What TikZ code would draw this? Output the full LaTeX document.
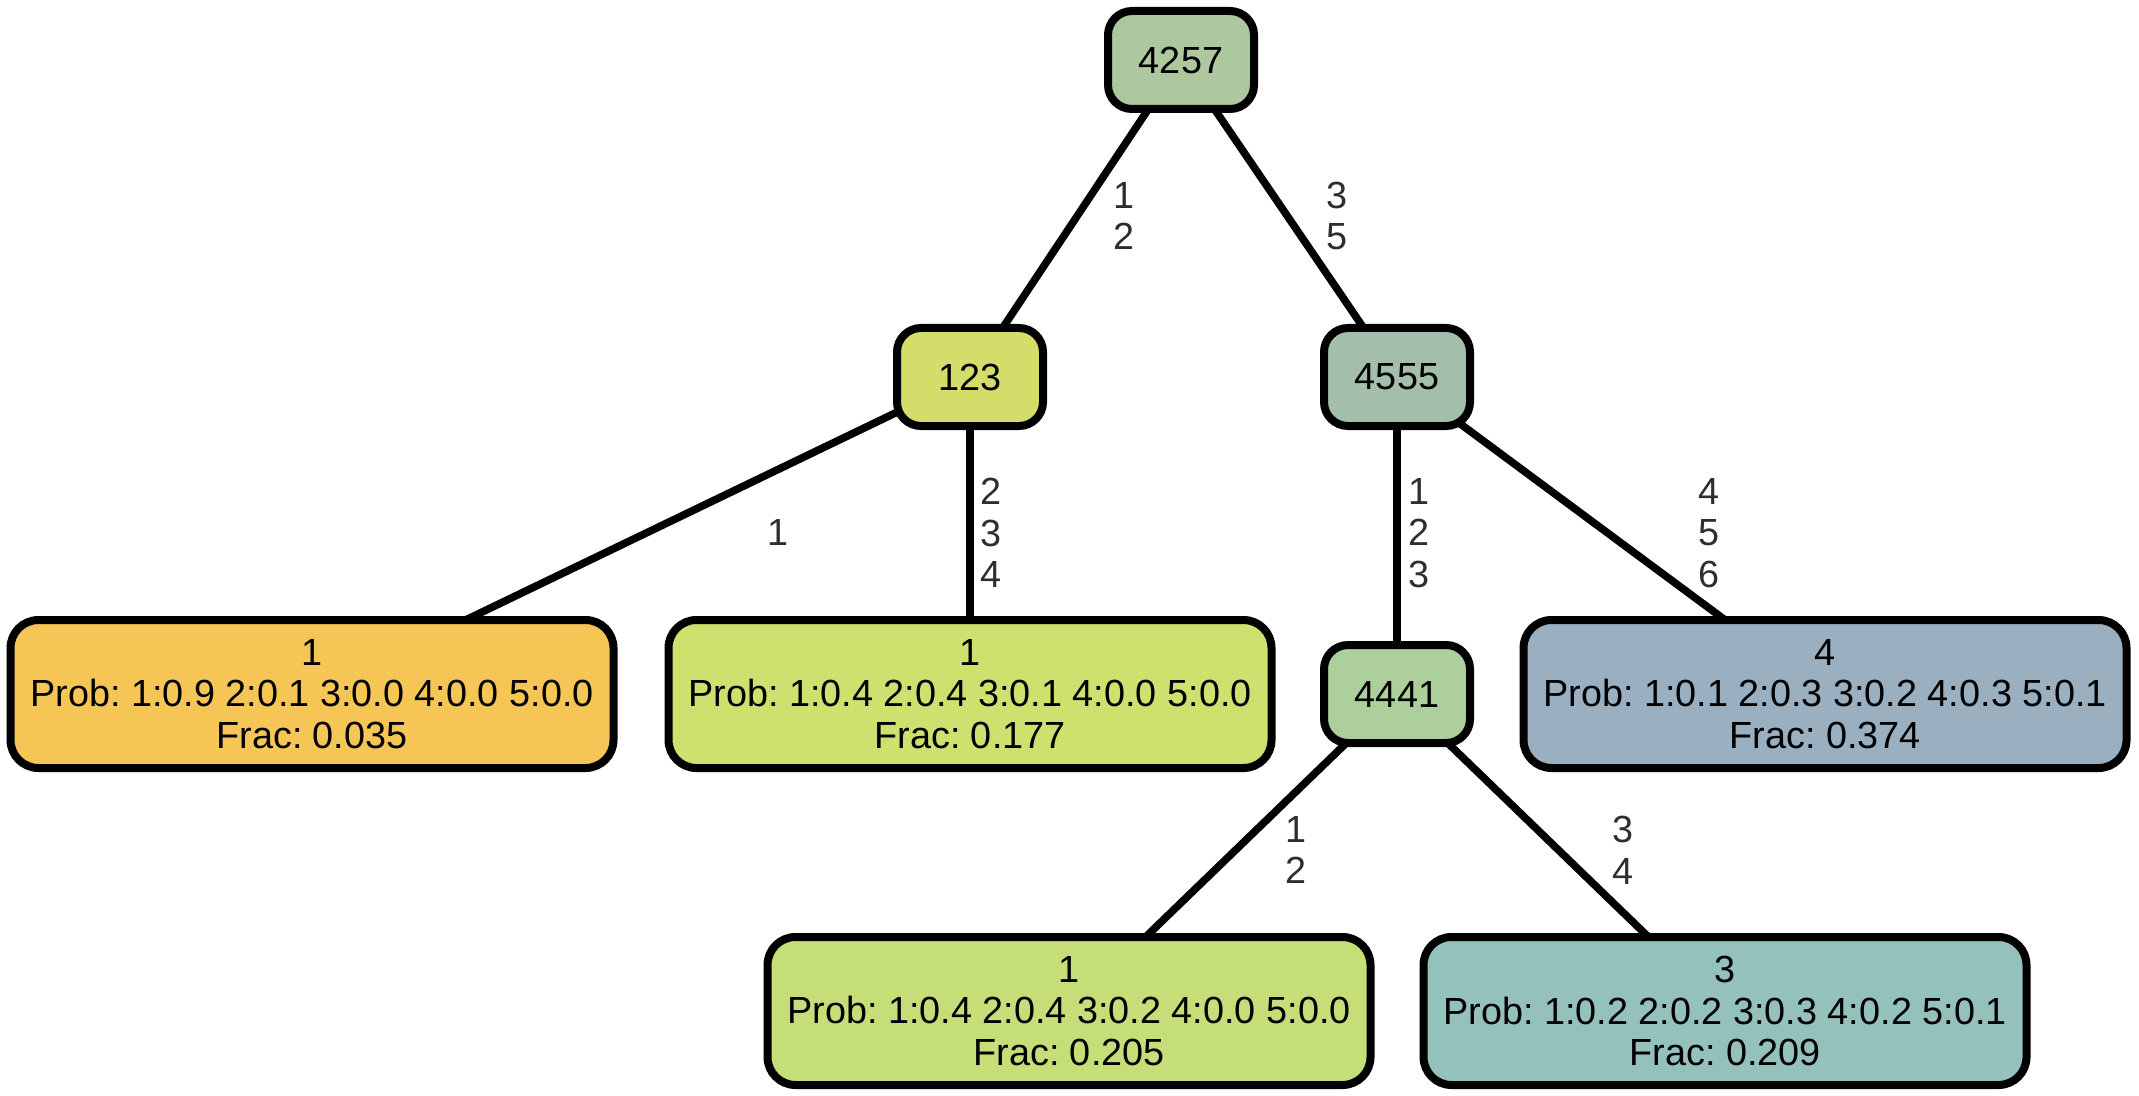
\documentclass[tikz,border=0pt]{standalone}
\usepackage{fontspec}
\setmainfont{Liberation Sans}
\usetikzlibrary{backgrounds}
\definecolor{cTop}{HTML}{ADC79E}
\definecolor{cOneTwoThree}{HTML}{D4DC6A}
\definecolor{cMid}{HTML}{A3BFAC}
\definecolor{cLow}{HTML}{ACCF9B}
\definecolor{cLeafA}{HTML}{F5C656}
\definecolor{cLeafB}{HTML}{CEE06E}
\definecolor{cLeafC}{HTML}{C6DE78}
\definecolor{cLeafD}{HTML}{9AAFC0}
\definecolor{cLeafE}{HTML}{94C1BC}
\definecolor{labgrey}{HTML}{2E2E2E}
\frenchspacing
\begin{document}
\begin{tikzpicture}[x=0.5pt,y=-0.5pt,
  box/.style={draw=black, line width=4pt, rounded corners=12pt, inner sep=0pt,
    align=center, font=\fontsize{18.9}{20.85}\selectfont},
  smallbox/.style={box, minimum width=73pt, minimum height=49pt},
  leafbox/.style={box, rounded corners=14pt, minimum width=301.5pt, minimum height=74pt},
  conn/.style={line width=3.8pt, draw=black},
  elab/.style={text=labgrey, align=center, inner sep=0pt,
    font=\fontsize{18.9}{20.85}\selectfont}
]
\useasboundingbox (0,0) rectangle (2139,1096);

\node[smallbox, fill=cTop] (n4257) at (1181,60) {4257};
\node[smallbox, fill=cOneTwoThree] (n123) at (970,377) {123};
\node[smallbox, fill=cMid] (n4555) at (1397,377) {4555};
\node[smallbox, fill=cLow] (n4441) at (1397,694) {4441};

\node[leafbox, fill=cLeafA] (lA) at (312,694) {1\\Prob: 1:0.9 2:0.1 3:0.0 4:0.0 5:0.0\\Frac: 0.035};
\node[leafbox, fill=cLeafB] (lB) at (970,694) {1\\Prob: 1:0.4 2:0.4 3:0.1 4:0.0 5:0.0\\Frac: 0.177};
\node[leafbox, fill=cLeafD] (lD) at (1825,694) {4\\Prob: 1:0.1 2:0.3 3:0.2 4:0.3 5:0.1\\Frac: 0.374};
\node[leafbox, fill=cLeafC] (lC) at (1069,1011) {1\\Prob: 1:0.4 2:0.4 3:0.2 4:0.0 5:0.0\\Frac: 0.205};
\node[leafbox, fill=cLeafE] (lE) at (1725,1011) {3\\Prob: 1:0.2 2:0.2 3:0.3 4:0.2 5:0.1\\Frac: 0.209};

\begin{pgfonlayer}{background}
\draw[conn] (n4257.center) -- (n123.center);
\draw[conn] (n4257.center) -- (n4555.center);
\draw[conn] (n123.center) -- (lA.center);
\draw[conn] (n123.center) -- (lB.center);
\draw[conn] (n4555.center) -- (n4441.center);
\draw[conn] (n4555.center) -- (lD.center);
\draw[conn] (n4441.center) -- (lC.center);
\draw[conn] (n4441.center) -- (lE.center);
\end{pgfonlayer}

\node[elab] (t1) at (1124,216) {1\\2};
\node[elab] (t2) at (1337,216) {3\\5};
\node[elab] (t3) at (778,532) {1};
\node[elab] (t4) at (991,533) {2\\3\\4};
\node[elab] (t5) at (1419,533) {1\\2\\3};
\node[elab] (t6) at (1709,533) {4\\5\\6};
\node[elab] (t7) at (1296,850) {1\\2};
\node[elab] (t8) at (1623,850) {3\\4};
\end{tikzpicture}
\end{document}
